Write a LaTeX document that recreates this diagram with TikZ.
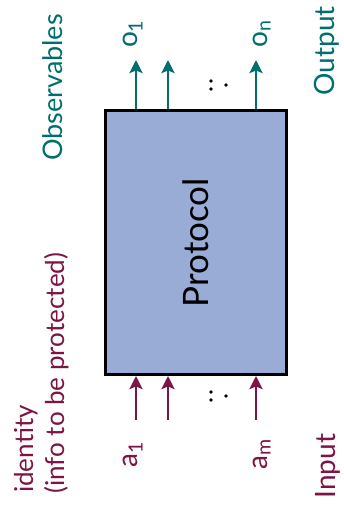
\documentclass[tikz,border=0pt]{standalone}
\usepackage{fontspec}
\setmainfont{Lato}
\usetikzlibrary{arrows.meta}
\definecolor{tealc}{RGB}{0,110,110}
\definecolor{maroonc}{RGB}{125,20,70}
\definecolor{boxfill}{RGB}{152,172,214}
\tikzset{
  lbl/.style={rotate=90, inner sep=0pt, font=\fontsize{28}{32}\selectfont},
  outlbl/.style={lbl, text=tealc},
  inlbl/.style={lbl, text=maroonc},
  tipshape/.style={-{Stealth[width=13pt,length=13pt,inset=2.5pt]}},
  outarrow/.style={draw=tealc, line width=2.6pt, tipshape},
  inarrow/.style={draw=maroonc, line width=2.6pt, tipshape},
  protobox/.style={rotate=90, draw=black, line width=3pt, fill=boxfill, minimum width=264pt, minimum height=181pt, inner sep=0pt, font=\fontsize{35}{40}\selectfont},
  dotc/.style={circle, fill=black, inner sep=0pt, minimum size=3.8pt}
}
\begin{document}
\begin{tikzpicture}[x=1pt,y=-1pt]
\useasboundingbox (0,0) rectangle (344,507);
\node[protobox] (box) at (195.5,242.5) {Protocol};
% output labels
\node[outlbl, anchor=base, font=\fontsize{27}{31}\selectfont] (obs) at (62,87.5) {Observables};
\node[outlbl, anchor=base] (outp) at (334,51) {Output};
\node[outlbl, anchor=base] (o1) at (137,34) {o\textsubscript{1}};
\node[outlbl, anchor=base] (on) at (267,34) {o\textsubscript{n}};
% input labels
\node[inlbl, anchor=base west, font=\fontsize{26}{30}\selectfont] (id) at (33,493) {identity};
\node[inlbl, anchor=base west, font=\fontsize{26}{30}\selectfont] (info) at (64,494) {(info to be protected)};
\node[inlbl, anchor=base] (inp) at (335,466) {Input};
\node[inlbl, anchor=base] (a1) at (137,455) {a\textsubscript{1}};
\node[inlbl, anchor=base] (am) at (267,454) {a\textsubscript{m}};
% arrow end points
\coordinate (t1) at (136,60);
\coordinate (t2) at (168,60);
\coordinate (t3) at (256,60);
\coordinate (b1) at (136,420);
\coordinate (b2) at (168,420);
\coordinate (b3) at (256,420);
\draw[outarrow] (box.east -| t1) -- (t1);
\draw[outarrow] (box.east -| t2) -- (t2);
\draw[outarrow] (box.east -| t3) -- (t3);
\draw[inarrow] (b1) -- (box.west -| b1);
\draw[inarrow] (b2) -- (box.west -| b2);
\draw[inarrow] (b3) -- (box.west -| b3);
% dots
\node[dotc] (d1) at (211,81) {};
\node[dotc] (d2) at (211,89) {};
\node[dotc] (d3) at (226,85) {};
\node[dotc] (d4) at (211,392) {};
\node[dotc] (d5) at (211,400) {};
\node[dotc] (d6) at (226,396) {};
\end{tikzpicture}
\end{document}
